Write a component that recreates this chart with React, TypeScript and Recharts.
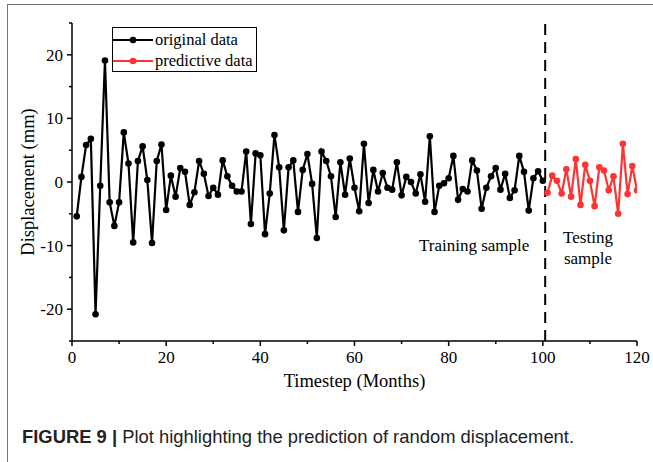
import { LineChart, Line, XAxis, YAxis, ReferenceLine, Legend } from 'recharts';

// monthly random displacement (mm), months 1..100
const originalValues = [
  -5.4, 0.8, 5.8, 6.8, -20.8, -0.6, 19.1, -3.2, -6.9, -3.2,
  7.8, 2.9, -9.5, 3.3, 5.6, 0.3, -9.6, 3.3, 5.9, -4.4,
  1.0, -2.3, 2.2, 1.6, -3.6, -1.6, 3.3, 1.3, -2.2, -0.9,
  -2.0, 3.4, 0.9, -0.6, -1.5, -1.5, 4.8, -6.6, 4.5, 4.2,
  -8.2, -1.8, 7.4, 2.3, -7.6, 2.3, 3.4, -4.7, 1.9, 4.4,
  -0.3, -8.8, 4.8, 3.3, 0.9, -5.5, 3.1, -2.0, 3.7, -0.9,
  -4.6, 6.0, -3.3, 1.9, -1.5, 1.4, -0.9, -1.2, 3.1, -2.1,
  0.8, 0.0, -1.8, 1.2, -3.1, 7.2, -4.7, -0.6, -0.2, 0.6,
  4.1, -2.8, -1.1, -1.5, 3.4, 1.8, -4.2, -0.9, 0.9, 2.2,
  -1.2, 1.3, -2.5, -1.3, 4.1, 1.6, -4.5, 0.6, 1.7, 0.2,
];

// predicted displacement (mm), months 101..120
const predictiveValues = [
  -1.7, 1.0, 0.2, -1.8, 2.0, -2.3, 3.6, -3.6, 2.7, 0.2,
  -3.8, 2.3, 1.8, -1.3, 0.9, -5.0, 6.0, -1.9, 2.5, -1.3,
];

const xTicks = [0, 10, 20, 30, 40, 50, 60, 70, 80, 90, 100, 110, 120];
const yTicks = [-25, -20, -15, -10, -5, 0, 5, 10, 15, 20, 25];
const seriesNames = ['original data', 'predictive data'];
const seriesColors = ['#000000', '#ff3333'];
const splitMonth = 100.5;

const originalData = originalValues.map((v, i) => ({ month: i + 1, value: v }));
const predictiveData = predictiveValues.map((v, i) => ({ month: 101 + i, value: v }));

const serif = '"Liberation Serif", "Times New Roman", serif';

function BottomTick({ x, y, payload }: any) {
  const major = payload.value % 20 === 0;
  return (
    <g>
      <line x1={x} x2={x} y1={y} y2={y + (major ? 5 : 3)} stroke="#000" strokeWidth={1.5} />
      {major && (
        <text x={x} y={y + 22} textAnchor="middle" style={{ fontFamily: serif, fontSize: 17 }} fill="#000">
          {payload.value}
        </text>
      )}
    </g>
  );
}

function LeftTick({ x, y, payload }: any) {
  const major = payload.value % 10 === 0;
  return (
    <g>
      <line x1={x} x2={x - (major ? 5 : 3)} y1={y} y2={y} stroke="#000" strokeWidth={1.5} />
      {major && (
        <text x={x - 9} y={y + 6} textAnchor="end" style={{ fontFamily: serif, fontSize: 17 }} fill="#000">
          {payload.value}
        </text>
      )}
    </g>
  );
}

function LegendBox() {
  return (
    <div style={{ padding: '1px 0' }}>
      {seriesNames.map((name, i) => (
        <div key={name} style={{ display: 'flex', alignItems: 'center', height: 21, whiteSpace: 'nowrap' }}>
          <svg width={40} height={10} style={{ flex: 'none' }}>
            <line x1={0} x2={40} y1={5} y2={5} stroke={seriesColors[i]} strokeWidth={2} />
            <circle cx={20} cy={5} r={3.3} fill={seriesColors[i]} />
          </svg>
          <span style={{ fontFamily: serif, fontSize: 16.5, marginLeft: 2, color: '#000' }}>{name}</span>
        </div>
      ))}
    </div>
  );
}

export default function App() {
  return (
    <div style={{ position: 'absolute', left: 0, top: 0, width: 653, height: 462, background: '#fff' }}>
      <div
        style={{
          position: 'absolute', left: 7, top: 4, width: 646, height: 458,
          borderTop: '1.5px solid #777', borderLeft: '1.5px solid #777',
        }}
      />
      <LineChart width={653} height={462} margin={{ top: 23, right: 16, bottom: 91, left: 12 }}>
        <XAxis
          dataKey="month" type="number" domain={[0, 120]} ticks={xTicks} allowDataOverflow
          height={30} tickSize={0} tickMargin={0} tickLine={false} tick={<BottomTick />}
          axisLine={{ stroke: '#000', strokeWidth: 1.5 }}
          label={{ value: 'Timestep (Months)', position: 'bottom', offset: 3, style: { fontFamily: serif, fontSize: 18.5, fill: '#000' } }}
        />
        <XAxis
          xAxisId="top" orientation="top" dataKey="month" type="number" domain={[0, 120]} ticks={xTicks}
          height={0} mirror tick={false} tickSize={4} tickLine={{ stroke: '#000', strokeWidth: 1.5 }}
          axisLine={{ stroke: '#000', strokeWidth: 1.5 }}
        />
        <YAxis
          type="number" domain={[-25, 25]} ticks={yTicks} width={60}
          tickSize={0} tickMargin={0} tickLine={false} tick={<LeftTick />}
          axisLine={{ stroke: '#000', strokeWidth: 1.5 }}
          label={{ value: 'Displacement (mm)', angle: -90, position: 'insideLeft', offset: 15, style: { textAnchor: 'middle', fontFamily: serif, fontSize: 18.5, fill: '#000' } }}
        />
        <YAxis
          yAxisId="right" orientation="right" type="number" domain={[-25, 25]} ticks={yTicks}
          width={0} mirror tick={false} tickSize={5} tickLine={{ stroke: '#000', strokeWidth: 1.5 }}
          axisLine={{ stroke: '#000', strokeWidth: 1.5 }}
        />
        <ReferenceLine x={splitMonth} stroke="#000" strokeWidth={2} strokeDasharray="11 7" />
        <Line
          data={originalData} dataKey="value" name={seriesNames[0]} stroke={seriesColors[0]} strokeWidth={2.2}
          dot={{ r: 3.3, fill: seriesColors[0], stroke: seriesColors[0], strokeWidth: 0 }} isAnimationActive={false}
        />
        <Line
          data={predictiveData} dataKey="value" name={seriesNames[1]} stroke={seriesColors[1]} strokeWidth={2.2}
          dot={{ r: 3.3, fill: seriesColors[1], stroke: seriesColors[1], strokeWidth: 0 }} isAnimationActive={false}
        />
        <Legend
          layout="horizontal" verticalAlign="middle" align="center" content={<LegendBox />}
          wrapperStyle={{
            position: 'absolute', left: 112, top: 27, width: 145, height: 45,
            border: '1.5px solid #000', background: '#fff', boxSizing: 'border-box',
          }}
        />
      </LineChart>
      <div style={{ position: 'absolute', left: 419, top: 236, fontFamily: serif, fontSize: 17, lineHeight: '20px', color: '#000' }}>
        Training sample
      </div>
      <div style={{ position: 'absolute', left: 548, top: 227, width: 80, textAlign: 'center', fontFamily: serif, fontSize: 17, lineHeight: '21px', color: '#000' }}>
        Testing<br />sample
      </div>
      <div style={{ position: 'absolute', left: 22, top: 426, fontFamily: '"Liberation Sans", Arial, sans-serif', fontSize: 18.4, color: '#222', whiteSpace: 'nowrap' }}>
        <b>FIGURE 9 |</b> Plot highlighting the prediction of random displacement.
      </div>
    </div>
  );
}
